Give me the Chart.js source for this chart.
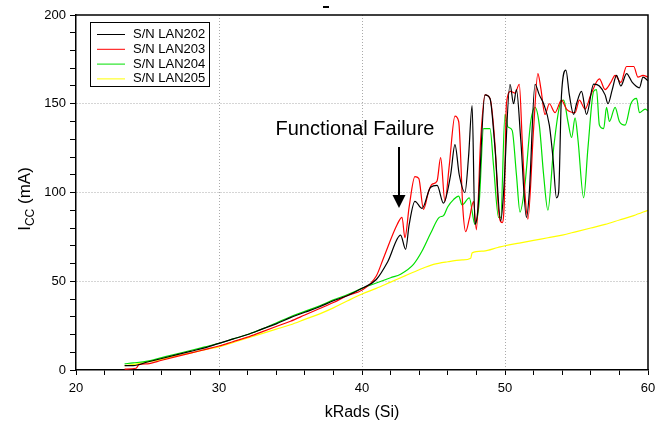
<!DOCTYPE html>
<html>
<head>
<meta charset="utf-8">
<script src="https://cdn.jsdelivr.net/npm/chart.js@4.4.0/dist/chart.umd.min.js"></script>
<style>
  html, body { margin: 0; padding: 0; background: #fff; }
  #wrap { width: 662px; height: 426px; position: relative; }
</style>
</head>
<body>
<div id="wrap"><canvas id="chart" width="662" height="426"></canvas></div>
<script>
// Icc vs total dose, four parts
const labels = ['S/N LAN202', 'S/N LAN203', 'S/N LAN204', 'S/N LAN205'];
const colors = ['#000000', '#ff0000', '#00e000', '#ffff00'];

const lan202X = [23.4,24,25,26,27,28,29,30,31,32,33,34,35,36,37,38,39,40,
  41,41.8,42.7,43.05,43.3,43.7,44.2,44.8,45.25,45.7,46.2,46.5,46.8,47.2,47.45,47.7,47.9,48.1,
  48.6,48.95,49.3,49.7,49.9,50.35,50.6,50.8,51.1,51.5,51.7,52.1,52.4,52.7,53.1,53.35,53.6,53.75,
  53.95,54.26,54.5,54.8,55,55.35,55.7,56.2,56.6,57,57.2,57.5,57.8,58.1,58.5,58.9,59.4,59.65,60];
const lan202Y = [2.5,2.5,4.5,6.5,8.5,10.5,12.5,15,17.5,20,23,26,29.5,32.5,35.5,39,42,46,
  51,61,76,68,82,95,91,103,104,94,110,127,110,100,120,149,82,90,
  155,153,125,84,100,161,150,158,130,86,100,161,155,150,138,120,97,100,
  155,169,155,144,150,157,144,161,160,155,150,158,166,160,167,162,159,165,163];

const lan203X = [23.4,24.2,24.4,25,26,27,28,29,30,31,32,33,34,35,36,37,38,39,40,
  41,41.5,42.46,42.8,43,43.3,43.7,43.97,44.3,44.67,44.9,45.25,45.5,45.8,46.1,46.5,46.76,47.06,47.25,
  47.5,47.8,48,48.3,48.6,48.95,49.3,49.55,49.8,49.95,50.1,50.4,50.7,51,51.2,51.4,51.6,52,52.3,52.5,
  52.8,53.1,53.5,53.95,54.3,54.9,55.2,55.6,56,56.6,57,57.4,57.7,58.1,58.5,59,59.3,59.65,60];
const lan203Y = [0.5,1,3,3.5,5.5,7.5,9.5,11.5,13.5,16,18.5,21.5,24.5,27.5,31,34.5,38,42,45,
  53,63,82,86,74.5,92,109,108,90.5,101,104.6,106.5,119.6,95,115,143,140,90,78,
  85,95,79,130,155,153,127,90,83,95,150,157,156,161,130,99,85,136,167,159,
  144,150,145,152,147,145,152,147,155,164,158,162,166,162,171,171,165,166,165];

const lan204X = [23.4,24,25,26,27,28,29,30,31,32,33,34,35,36,37,38,39,40,
  41,42,42.7,43.6,44.2,44.8,45.4,45.7,46,46.4,46.76,47,47.5,47.9,48.2,48.5,48.95,49.2,49.55,49.7,
  50,50.2,50.5,50.8,51.05,51.4,51.8,52.1,52.4,52.7,53,53.4,53.9,54.1,54.4,54.66,54.9,55.1,55.5,55.8,
  56.2,56.4,56.6,56.9,57.1,57.3,57.7,58,58.4,58.8,59.2,59.4,59.8,60];
const lan204Y = [3.5,4,5,7,9,11,13,15,17.5,20,23,26.5,30,33,36,39.5,42.5,46,
  49,52,54,59.5,67,77,86,87,92,96,98,93,97,82,95,136,136,115,86,86,
  144,137,135,110,89,105,140,148,138,110,90,125,151,152,140,131,142,130,97,125,
  157,158,138,136,148,140,148,140,138,150,153,145,147,146];

const lan205X = [23.4,24,25,26,27,28,29,30,31,32,33,34,35,36,37,38,39,40,
  41,42,43,44,45,46,47,47.6,47.7,48.5,49.5,50,51,52,53,54,55,56,57,58,59,60];
const lan205Y = [2.5,3,4.5,6,8,9.5,11.5,13,15.5,18,20.5,23,25.5,28.5,31.5,35,39,42.8,
  46,49.5,53,56.5,59.5,61,62,63,66,67,69,70,71.5,73,74.5,76,78,80,82,84.5,87,90];

const xTicksMajor = [20, 30, 40, 50, 60];
const yTicksMajor = [0, 50, 100, 150, 200];

function toPoints(xs, ys) {
  return xs.map((x, i) => ({ x: x, y: ys[i] }));
}

const series = [
  toPoints(lan202X, lan202Y),
  toPoints(lan203X, lan203Y),
  toPoints(lan204X, lan204Y),
  toPoints(lan205X, lan205Y)
];

const FONT = "'Liberation Sans', Arial, sans-serif";

// box round the plot, legend, y title, annotation
const extras = {
  id: 'extras',
  afterDraw(chart) {
    const ctx = chart.ctx;
    const a = chart.chartArea;
    ctx.save();
    ctx.strokeStyle = '#000';
    ctx.lineWidth = 1.5;
    ctx.beginPath();
    ctx.moveTo(a.left, a.top);
    ctx.lineTo(a.right, a.top);
    ctx.lineTo(a.right, a.bottom);
    ctx.stroke();

    // legend
    ctx.lineWidth = 1;
    ctx.fillStyle = '#fff';
    ctx.fillRect(90.5, 22.5, 119, 64);
    ctx.strokeStyle = '#000';
    ctx.strokeRect(90.5, 22.5, 119, 64);
    ctx.font = '13px ' + FONT;
    ctx.textBaseline = 'middle';
    ctx.fillStyle = '#000';
    labels.forEach((lab, i) => {
      const y = 34.5 + i * 14.8;
      ctx.strokeStyle = colors[i];
      ctx.beginPath();
      ctx.moveTo(97, y);
      ctx.lineTo(125, y);
      ctx.stroke();
      ctx.fillText(lab, 133, y);
    });

    // y title with subscript
    ctx.save();
    ctx.translate(24, 199);
    ctx.rotate(-Math.PI / 2);
    ctx.fillStyle = '#000';
    ctx.textBaseline = 'alphabetic';
    ctx.font = '17px ' + FONT;
    const wI = ctx.measureText('I').width;
    ctx.font = '12px ' + FONT;
    const wCC = ctx.measureText('CC').width;
    ctx.font = '17px ' + FONT;
    const wRest = ctx.measureText(' (mA)').width;
    let x0 = -(wI + wCC + wRest) / 2;
    ctx.fillText('I', x0, 6);
    ctx.font = '12px ' + FONT;
    ctx.fillText('CC', x0 + wI, 10);
    ctx.font = '17px ' + FONT;
    ctx.fillText(' (mA)', x0 + wI + wCC, 6);
    ctx.restore();

    // annotation
    ctx.fillStyle = '#000';
    ctx.font = '20px ' + FONT;
    ctx.textAlign = 'center';
    ctx.textBaseline = 'middle';
    ctx.fillText('Functional Failure', 355, 129);
    ctx.strokeStyle = '#000';
    ctx.lineWidth = 2;
    ctx.beginPath();
    ctx.moveTo(399, 147);
    ctx.lineTo(399, 197);
    ctx.stroke();
    ctx.beginPath();
    ctx.moveTo(392.5, 195);
    ctx.lineTo(405.5, 195);
    ctx.lineTo(399, 208);
    ctx.closePath();
    ctx.fill();

    // little dash above the plot
    ctx.fillRect(323, 6, 6, 2);
    ctx.restore();
  }
};

new Chart(document.getElementById('chart'), {
  type: 'line',
  data: {
    datasets: series.map((pts, i) => ({
      label: labels[i],
      data: pts,
      borderColor: colors[i],
      backgroundColor: colors[i],
      borderWidth: 1.2,
      pointRadius: 0,
      fill: false,
      cubicInterpolationMode: 'monotone'
    }))
  },
  options: {
    responsive: false,
    animation: false,
    devicePixelRatio: 1,
    layout: { padding: { left: 0, right: 14, top: 15, bottom: 0 } },
    plugins: {
      legend: { display: false },
      tooltip: { enabled: false }
    },
    scales: {
      x: {
        type: 'linear',
        min: 20,
        max: 60,
        afterFit: s => { s.height = 56; },
        ticks: {
          stepSize: 2,
          autoSkip: false,
          maxRotation: 0,
          padding: 6,
          color: '#000',
          font: { family: FONT, size: 13 },
          callback: v => xTicksMajor.includes(v) ? v : ''
        },
        grid: {
          color: c => [30, 40, 50].includes(c.tick && c.tick.value) ? '#aaaaaa' : 'rgba(0,0,0,0)',
          tickColor: '#000',
          tickLength: 5,
          lineWidth: 1
        },
        border: { color: '#000', width: 1.5, dash: [1, 2] },
        title: {
          display: true,
          text: 'kRads (Si)',
          color: '#000',
          font: { family: FONT, size: 16 },
          padding: { top: 4 }
        }
      },
      y: {
        min: 0,
        max: 200,
        afterFit: s => { s.width = 76; },
        ticks: {
          stepSize: 10,
          autoSkip: false,
          padding: 4,
          color: '#000',
          font: { family: FONT, size: 13 },
          callback: v => yTicksMajor.includes(v) ? v : ''
        },
        grid: {
          color: c => [50, 100, 150].includes(c.tick && c.tick.value) ? '#aaaaaa' : 'rgba(0,0,0,0)',
          tickColor: '#000',
          tickLength: 6,
          lineWidth: 1
        },
        border: { color: '#000', width: 1.5, dash: [1, 2] }
      }
    }
  },
  plugins: [extras]
});
</script>
</body>
</html>
